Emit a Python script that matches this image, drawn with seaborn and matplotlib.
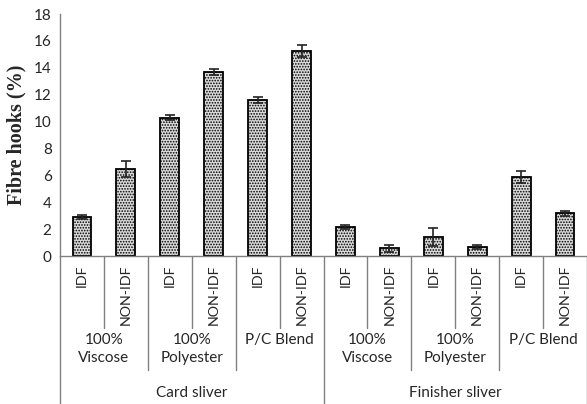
import matplotlib
matplotlib.use('Agg')
from matplotlib import pyplot as plt
import seaborn as sns
import pandas as pd

# data
slivers = ['Card sliver', 'Finisher sliver']
fibres = ['100%\nViscose', '100%\nPolyester', 'P/C Blend']
drafts = ['IDF', 'NON-IDF']
card_values = [2.9, 6.5, 10.3, 13.7, 11.6, 15.25]
card_errors = [0.15, 0.6, 0.19, 0.24, 0.2, 0.43]
finisher_values = [2.18, 0.57, 1.39, 0.67, 5.88, 3.17]
finisher_errors = [0.15, 0.25, 0.68, 0.17, 0.46, 0.16]

rows = []
for s, vals, errs in [(slivers[0], card_values, card_errors),
                      (slivers[1], finisher_values, finisher_errors)]:
    i = 0
    for f in fibres:
        for d in drafts:
            rows.append({'sliver': s, 'fibre': f, 'draft': d,
                         'key': f'{s}|{f}|{d}', 'value': vals[i], 'err': errs[i]})
            i += 1
df = pd.DataFrame(rows)

sns.set_style('white')
plt.rcParams['font.family'] = ['Lato', 'DejaVu Sans']
plt.rcParams['hatch.color'] = '#a0a0a0'
plt.rcParams['hatch.linewidth'] = 0.8

fig = plt.figure(figsize=(5.87, 4.04), dpi=100)
ax = fig.add_axes([60 / 587, 1 - 256 / 404, 527 / 587, 242 / 404])

sns.barplot(data=df, x='key', y='value', order=list(df['key']), color='#dadada',
            width=0.43, edgecolor='black', linewidth=1.3, saturation=1, ax=ax)
for p in ax.patches:
    p.set_hatch('......')

xs = list(range(len(df)))
ax.errorbar(xs, df['value'], yerr=df['err'], fmt='none', ecolor='#222222',
            elinewidth=1.2, capsize=3.5, capthick=1.2)

ax.set_xlim(-0.5, len(df) - 0.5)
ax.set_ylim(0, 18)
ax.set_yticks(range(0, 19, 2))
ax.tick_params(axis='y', length=4, color='#808080', labelsize=11, pad=2)
ax.set_xticks([])
ax.set_xlabel('')
ax.set_ylabel('Fibre hooks (%)', family='Liberation Serif', fontweight='bold',
              fontsize=14.5, labelpad=5)
for side in ['top', 'right']:
    ax.spines[side].set_visible(False)
for side in ['left', 'bottom']:
    ax.spines[side].set_color('#808080')
    ax.spines[side].set_linewidth(1.0)

tr = ax.get_xaxis_transform()
line_kw = dict(color='#808080', lw=1.0, transform=tr, clip_on=False)

# level 1: IDF / NON-IDF labels and short separators
for i, row in df.iterrows():
    ax.text(i, -0.035, row['draft'], rotation=90, ha='center', va='top',
            fontsize=10.3, transform=tr)
for i in range(len(df) + 1):
    if i % 2 == 1:
        ax.plot([i - 0.5, i - 0.5], [0, -0.2975], **line_kw)
    elif i % 6 != 0:
        ax.plot([i - 0.5, i - 0.5], [0, -0.471], **line_kw)
    else:
        ax.plot([i - 0.5, i - 0.5], [0, -0.62], **line_kw)

# level 2: fibre labels
for g in range(len(slivers) * len(fibres)):
    ax.text(2 * g + 0.5, -0.32, fibres[g % 3], ha='center', va='top',
            fontsize=11, linespacing=1.35, transform=tr)

# level 3: sliver labels
for k, s in enumerate(slivers):
    ax.text(6 * k + 2.5, -0.566, s, ha='center', va='center',
            fontsize=11, transform=tr)

fig.savefig('out.png', dpi=100)
